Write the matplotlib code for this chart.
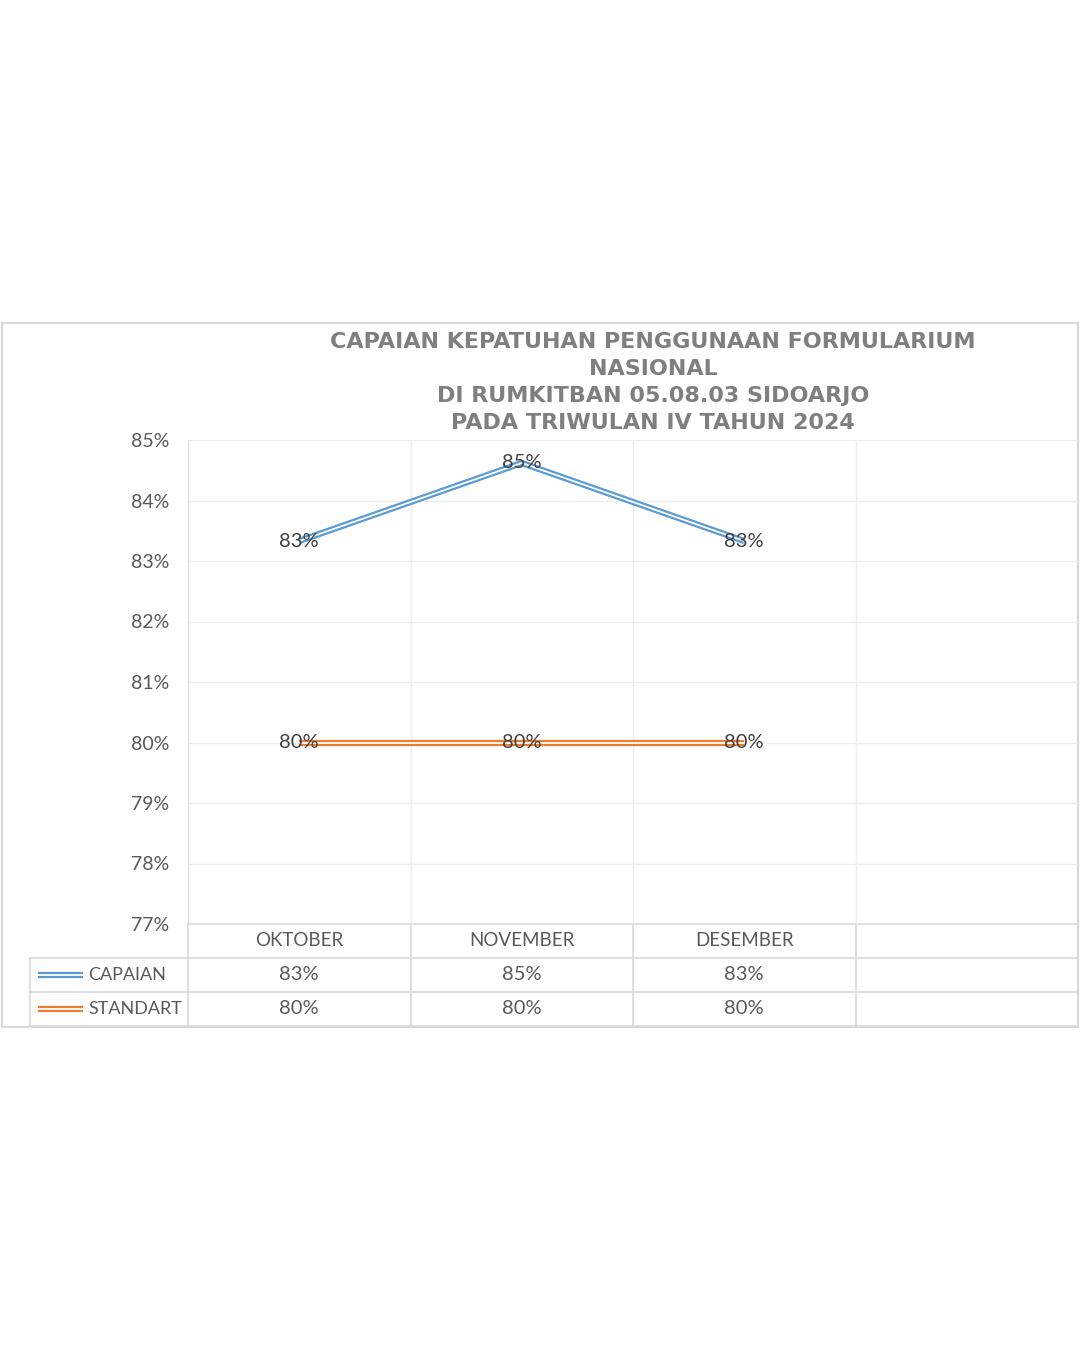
import matplotlib
matplotlib.use("Agg")
import matplotlib.pyplot as plt
from matplotlib.patches import Rectangle

# ---- data ----
categories = ["OKTOBER", "NOVEMBER", "DESEMBER", ""]
capaian = [83.33, 84.62, 83.33]
standart = [80.0, 80.0, 80.0]
series_names = ["CAPAIAN", "STANDART"]
yticks = [77, 78, 79, 80, 81, 82, 83, 84, 85]
title_lines = ["CAPAIAN KEPATUHAN PENGGUNAAN FORMULARIUM", "NASIONAL",
               "DI RUMKITBAN 05.08.03 SIDOARJO", "PADA TRIWULAN IV TAHUN 2024"]

BLUE = "#5b9bd5"
ORANGE = "#ed7d31"
TXT = "#595959"
GRID = "#eeeeee"
LINEC = "#d9d9d9"
FONT = "Lato"

W, H = 1080, 1350
fig = plt.figure(figsize=(W / 100, H / 100), dpi=100)
fig.patch.set_facecolor("white")

# overlay axes in pixel coordinates
ov = fig.add_axes([0, 0, 1, 1], zorder=0)
ov.set_xlim(0, W)
ov.set_ylim(H, 0)
ov.axis("off")

# chart border
ov.add_patch(Rectangle((2, 323), 1076, 704, fill=False, ec=LINEC, lw=1.5))

# plot area
L, R, T, B = 188, 1078, 440, 924
ax = fig.add_axes([L / W, 1 - B / H, (R - L) / W, (B - T) / H], zorder=1)
ax.patch.set_alpha(0)
ax.set_xlim(-0.5, len(categories) - 0.5)
ax.set_ylim(77, 85)
for s in ax.spines.values():
    s.set_visible(False)
ax.spines["left"].set_visible(True)
ax.spines["left"].set_color(LINEC)
ax.set_yticks(yticks)
ax.set_yticklabels([f"{v}%" for v in yticks], fontfamily=FONT, fontsize=14, color=TXT)
ax.tick_params(axis="y", length=0, pad=13.5)
ax.set_xticks([i + 0.5 for i in range(len(categories) - 1)])
ax.tick_params(axis="x", length=0, labelbottom=False)
ax.grid(True, color=GRID, lw=1)
ax.set_axisbelow(True)

x = list(range(len(capaian)))

def double_line(xs, ys, color):
    ax.plot(xs, ys, color=color, lw=4.5, solid_capstyle="butt", zorder=3)
    ax.plot(xs, ys, color="white", lw=1.3, solid_capstyle="butt", zorder=4)

double_line(x, capaian, BLUE)
double_line(x, standart, ORANGE)

for xi, v in zip(x, capaian):
    ax.text(xi, v, f"{round(v)}%", ha="center", va="center", fontfamily=FONT,
            fontsize=14.5, color="#404040", zorder=5)
for xi, v in zip(x, standart):
    ax.text(xi, v, f"{round(v)}%", ha="center", va="center", fontfamily=FONT,
            fontsize=14.5, color="#404040", zorder=5)

# title
ty = [342, 369, 396, 423]
for line, y in zip(title_lines, ty):
    ov.text(653, y, line, ha="center", va="center", fontfamily="DejaVu Sans",
            fontweight="bold", fontsize=16, color="#7f7f7f")

# data table
colw = (R - L) / len(categories)
rows_y = [924, 958, 992, 1026]
ov.plot([L, R], [rows_y[0], rows_y[0]], color=LINEC, lw=1.2)
for y in rows_y[1:]:
    ov.plot([30, R], [y, y], color=LINEC, lw=1.2)
ov.plot([30, 30], [rows_y[1], rows_y[3]], color=LINEC, lw=1.2)
for i in range(len(categories) + 1):
    xx = L + i * colw
    ov.plot([xx, xx], [rows_y[0], rows_y[3]], color=LINEC, lw=1.2)

for i, c in enumerate(categories):
    cx = L + (i + 0.5) * colw
    ov.text(cx, 941, c, ha="center", va="center", fontfamily=FONT, fontsize=13.5, color=TXT)
for i, v in enumerate(capaian):
    cx = L + (i + 0.5) * colw
    ov.text(cx, 975, f"{round(v)}%", ha="center", va="center", fontfamily=FONT, fontsize=14.5, color=TXT)
for i, v in enumerate(standart):
    cx = L + (i + 0.5) * colw
    ov.text(cx, 1009, f"{round(v)}%", ha="center", va="center", fontfamily=FONT, fontsize=14.5, color=TXT)

for name, col, yc in zip(series_names, [BLUE, ORANGE], [975, 1009]):
    ov.plot([38, 83], [yc, yc], color=col, lw=4.5, solid_capstyle="butt")
    ov.plot([38, 83], [yc, yc], color="white", lw=1.3, solid_capstyle="butt")
    ov.text(88, yc, name, ha="left", va="center", fontfamily=FONT, fontsize=13, color=TXT)

fig.savefig("out.png", dpi=100, facecolor="white")
